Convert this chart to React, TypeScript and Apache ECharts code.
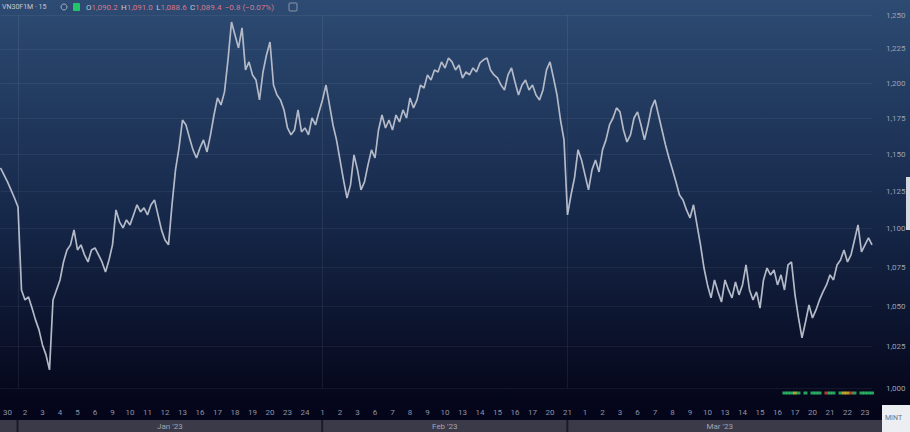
import React, { useEffect, useRef } from "react";
import * as echarts from "echarts";

// Day labels (each trading day holds 5 bars)
const dayLabels = [
  "30",
  "2", "3", "4", "5", "6", "9", "10", "11", "12", "13", "16", "17", "18", "19", "20", "23", "24",
  "1", "2", "3", "6", "7", "8", "9", "10", "13", "14", "15", "16", "17", "20", "21",
  "1", "2", "3", "6", "7", "8", "9", "10", "13", "14", "15", "16", "17", "20", "21", "22", "23",
];
const barsPerDay = 5;
const monthLabels = ["Jan '23", "Feb '23", "Mar '23"];
const monthBreaks = [5, 92, 162];

const closes = [
  1140.7, 1136.0, 1131.2, 1125.8, 1120.4, 1114.4, 1060.4, 1054.1, 1056.0, 1049.0,
  1041.6, 1035.4, 1026.1, 1020.0, 1010.9, 1054.1, 1060.4, 1066.8, 1078.3, 1086.1,
  1089.4, 1099.2, 1086.1, 1089.4, 1082.9, 1078.3, 1086.1, 1087.4, 1082.9, 1078.3,
  1071.9, 1079.6, 1089.4, 1112.4, 1104.5, 1100.5, 1105.8, 1102.5, 1109.1, 1115.8,
  1111.1, 1113.8, 1109.1, 1115.8, 1119.1, 1109.1, 1099.2, 1092.6, 1089.4, 1115.8,
  1139.4, 1154.5, 1173.9, 1170.4, 1161.4, 1153.1, 1147.5, 1154.5, 1160.0, 1151.7,
  1163.5, 1177.4, 1189.5, 1184.5, 1193.8, 1216.9, 1244.8, 1235.2, 1225.6, 1240.4,
  1209.6, 1215.4, 1206.0, 1202.3, 1188.1, 1208.1, 1220.5, 1230.0, 1198.7, 1191.6,
  1188.1, 1181.0, 1168.3, 1163.5, 1166.9, 1181.0, 1165.6, 1168.3, 1163.5, 1175.3,
  1170.4, 1179.6, 1188.1, 1198.7, 1184.5, 1170.4, 1160.0, 1146.2, 1132.6, 1120.4,
  1129.2, 1149.6, 1139.4, 1125.8, 1131.2, 1142.8, 1153.1, 1147.5, 1166.9, 1177.4,
  1168.3, 1173.9, 1166.9, 1177.4, 1172.5, 1181.0, 1175.3, 1189.5, 1182.4, 1188.1,
  1198.7, 1196.6, 1206.0, 1202.3, 1209.6, 1208.1, 1215.4, 1211.0, 1218.3, 1215.4,
  1209.6, 1213.2, 1203.8, 1208.1, 1206.0, 1211.0, 1208.1, 1214.7, 1216.9, 1218.3,
  1209.6, 1206.0, 1203.8, 1198.7, 1195.2, 1206.0, 1211.0, 1200.9, 1191.6, 1198.7,
  1202.3, 1195.2, 1198.7, 1191.6, 1188.1, 1195.2, 1209.6, 1215.4, 1203.8, 1191.6,
  1173.9, 1160.0, 1109.1, 1122.4, 1133.9, 1153.1, 1146.2, 1136.0, 1125.8, 1139.4,
  1146.2, 1138.0, 1153.1, 1160.0, 1170.4, 1175.3, 1182.4, 1179.6, 1166.9, 1158.6,
  1163.5, 1175.3, 1179.6, 1170.4, 1160.0, 1170.4, 1182.4, 1188.1, 1177.4, 1166.9,
  1156.5, 1147.5, 1139.4, 1131.2, 1122.4, 1119.1, 1112.4, 1107.1, 1115.8, 1102.5,
  1089.4, 1074.4, 1063.6, 1055.4, 1066.8, 1059.2, 1052.8, 1066.8, 1060.4, 1055.4,
  1065.5, 1057.3, 1063.6, 1076.4, 1060.4, 1054.1, 1059.2, 1049.0, 1066.8, 1074.4,
  1070.0, 1073.2, 1063.6, 1070.0, 1060.4, 1076.4, 1078.3, 1057.3, 1042.8, 1030.4,
  1040.3, 1050.9, 1042.8, 1047.8, 1054.1, 1059.2, 1063.6, 1070.0, 1066.8, 1076.4,
  1079.6, 1086.1, 1078.3, 1082.9, 1092.6, 1102.5, 1084.8, 1089.4, 1093.9, 1089.4,
];

// price-scale (logarithmic) tick labels
const yTicks = [1000, 1025, 1050, 1075, 1100, 1125, 1150, 1175, 1200, 1225, 1250];

// signal markers at the bottom: [bar index, kind]
const signalMarks: [number, string][] = [
  [224, "g"], [225, "g"], [226, "g"], [227, "y"], [228, "g"], [230, "g"], [232, "g"],
  [233, "g"], [234, "g"], [236, "r"], [237, "g"], [238, "g"], [240, "g"], [241, "y"],
  [242, "y"], [243, "r"], [244, "g"], [246, "g"], [247, "g"], [248, "g"], [249, "g"],
];
const markColors: Record<string, string> = { g: "#2ecc71", y: "#e6c229", r: "#e0483c" };

const fmt0 = (v: number) => v.toLocaleString("en-US", { maximumFractionDigits: 0 });
const fmt1 = (v: number) =>
  v.toLocaleString("en-US", { minimumFractionDigits: 1, maximumFractionDigits: 1 });

export default function App() {
  const ref = useRef<HTMLDivElement>(null);
  useEffect(() => {
    if (!ref.current) return;
    const chart = echarts.init(ref.current, undefined, { renderer: "svg" });
    const categories = closes.map((_, i) => `${Math.floor(i / barsPerDay)}|${i}`);
    const last = closes[closes.length - 1];
    const plotW = 872;
    const step = plotW / (closes.length - 1);
    const bounds = [...monthBreaks, closes.length - 1];
    const monthTexts = monthLabels.map((m, k) => ({
      type: "text",
      x: ((bounds[k] + bounds[k + 1]) / 2) * step,
      y: 426,
      style: { text: m, fill: "#a3a3b3", fontSize: 8, fontFamily: "Roboto", align: "center", verticalAlign: "middle" },
    }));
    const stripSeps = monthBreaks.map((b) => ({
      type: "rect",
      shape: { x: b * step - 1, y: 420, width: 2, height: 12 },
      style: { fill: "#1c1c28" },
    }));

    chart.setOption({
      animation: false,
      backgroundColor: new echarts.graphic.LinearGradient(0, 0, 0, 1, [
        { offset: 0, color: "#2d4b73" },
        { offset: 0.5, color: "#16284a" },
        { offset: 0.93, color: "#05061a" },
        { offset: 1, color: "#04051a" },
      ]),
      grid: [
        { left: 0, right: 38, top: 15, bottom: 44 },
        { left: 0, right: 38, top: 389, height: 8 },
      ],
      xAxis: [
        {
          type: "category",
          data: categories,
          boundaryGap: false,
          axisLine: { show: false },
          axisTick: { show: false },
          splitLine: { show: false },
          axisLabel: {
            interval: (idx: number) => idx % barsPerDay === 2,
            formatter: (v: string) => dayLabels[parseInt(v.split("|")[0], 10)],
            color: "#8d93a6",
            fontSize: 8,
            fontFamily: "Roboto",
            margin: 20,
          },
        },
        { type: "category", gridIndex: 1, data: categories, boundaryGap: false, show: false },
      ],
      yAxis: [
        {
          type: "log",
          logBase: 10,
          position: "right",
          min: yTicks[0],
          max: yTicks[yTicks.length - 1],
          axisLine: { show: false },
          axisTick: { show: false },
          splitLine: { show: false },
          axisLabel: { show: false },
        },
        { type: "value", gridIndex: 1, min: 0, max: 1, show: false },
      ],
      series: [
        {
          type: "line",
          data: closes,
          symbol: "none",
          lineStyle: { color: "#b3b9c7", width: 1.7 },
          z: 3,
          markLine: {
            silent: true,
            symbol: "none",
            animation: false,
            data: [
              ...yTicks.map((v) => ({
                yAxis: v,
                lineStyle: { color: "rgba(255,255,255,0.055)", width: 1, type: "solid" },
                label: {
                  show: true,
                  position: "end",
                  distance: 14,
                  formatter: fmt0(v),
                  color: "#9aa2b6",
                  fontSize: 8,
                  fontFamily: "Roboto",
                },
              })),
              ...monthBreaks.map((b) => ({
                xAxis: b,
                lineStyle: { color: "rgba(255,255,255,0.07)", width: 1, type: "solid" },
                label: { show: false },
              })),
              {
                yAxis: last,
                lineStyle: { opacity: 0 },
                label: {
                  show: true,
                  position: "end",
                  distance: 3,
                  formatter: fmt1(last),
                  backgroundColor: "#e9eaf0",
                  color: "#1a1d2a",
                  fontSize: 7,
                  fontFamily: "Roboto",
                  padding: [2, 2],
                  borderRadius: 1,
                },
              },
            ],
          },
        },
        {
          type: "scatter",
          xAxisIndex: 1,
          yAxisIndex: 1,
          symbol: "rect",
          symbolSize: [4, 3],
          data: signalMarks.map(([i, k]) => ({ value: [i, 0.5], itemStyle: { color: markColors[k] } })),
        },
      ],
      graphic: [
        {
          type: "rect",
          shape: { x: 0, y: 420, width: 910, height: 12 },
          style: { fill: "#3a3a49" },
          z: 10,
        },
        ...stripSeps.map((s) => ({ ...s, z: 11 })),
        ...monthTexts.map((t) => ({ ...t, z: 12 })),
        {
          type: "rect",
          shape: { x: 882, y: 405, width: 28, height: 27 },
          style: { fill: "#eceef2" },
          z: 13,
        },
        {
          type: "text",
          x: 885,
          y: 418,
          style: { text: "MINT", fill: "#6a6f80", fontSize: 7, fontFamily: "Roboto", verticalAlign: "middle" },
          z: 14,
        },
        {
          type: "rect",
          shape: { x: 906, y: 177, width: 4, height: 53 },
          style: { fill: "#d7dae2" },
          z: 13,
        },
        {
          type: "text",
          x: 2,
          y: 7,
          style: { text: "VN30F1M · 15", fill: "#c4c9d4", fontSize: 7, fontFamily: "Roboto", verticalAlign: "middle" },
          z: 14,
        },
        {
          type: "circle",
          shape: { cx: 64, cy: 7, r: 3 },
          style: { fill: "none", stroke: "#aab0bd", lineWidth: 1 },
          z: 14,
        },
        {
          type: "rect",
          shape: { x: 73, y: 3, width: 7, height: 8, r: 1 },
          style: { fill: "#24c46b" },
          z: 14,
        },
        {
          type: "text",
          x: 86,
          y: 7,
          style: {
            rich: {
              k: { fill: "#c4c9d4", fontSize: 8, fontFamily: "Roboto" },
              v: { fill: "#d7788c", fontSize: 8, fontFamily: "Roboto" },
            },
            text: "{k|O}{v|1,090.2} {k|H}{v|1,091.0} {k|L}{v|1,088.6} {k|C}{v|1,089.4} {v|−0.8 (−0.07%)}",
            verticalAlign: "middle",
          },
          z: 14,
        },
        {
          type: "rect",
          shape: { x: 289, y: 3, width: 8, height: 8, r: 1 },
          style: { fill: "none", stroke: "#8e95a6", lineWidth: 1 },
          z: 14,
        },
      ],
    });
    return () => chart.dispose();
  }, []);
  return <div ref={ref} style={{ position: "fixed", left: 0, top: 0, width: 910, height: 432 }} />;
}
